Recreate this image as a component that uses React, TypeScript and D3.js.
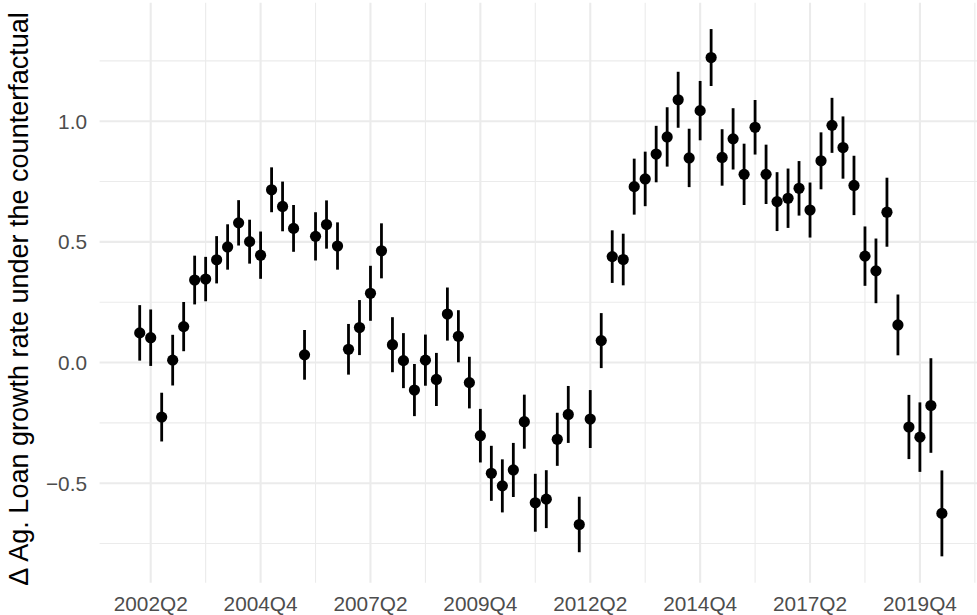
import React from "react";
import * as d3 from "d3";

const quarters: string[] = [
  "2002Q1","2002Q2","2002Q3","2002Q4","2003Q1","2003Q2","2003Q3","2003Q4",
  "2004Q1","2004Q2","2004Q3","2004Q4","2005Q1","2005Q2","2005Q3","2005Q4",
  "2006Q1","2006Q2","2006Q3","2006Q4","2007Q1","2007Q2","2007Q3","2007Q4",
  "2008Q1","2008Q2","2008Q3","2008Q4","2009Q1","2009Q2","2009Q3","2009Q4",
  "2010Q1","2010Q2","2010Q3","2010Q4","2011Q1","2011Q2","2011Q3","2011Q4",
  "2012Q1","2012Q2","2012Q3","2012Q4","2013Q1","2013Q2","2013Q3","2013Q4",
  "2014Q1","2014Q2","2014Q3","2014Q4","2015Q1","2015Q2","2015Q3","2015Q4",
  "2016Q1","2016Q2","2016Q3","2016Q4","2017Q1","2017Q2","2017Q3","2017Q4",
  "2018Q1","2018Q2","2018Q3","2018Q4","2019Q1","2019Q2","2019Q3","2019Q4",
  "2020Q1","2020Q2",
];

const estimates: number[] = [
  0.123, 0.103, -0.226, 0.010, 0.149, 0.342, 0.346, 0.426, 0.479, 0.579,
  0.501, 0.445, 0.716, 0.647, 0.556, 0.032, 0.523, 0.572, 0.483, 0.055,
  0.145, 0.287, 0.463, 0.074, 0.008, -0.114, 0.010, -0.070, 0.201, 0.109,
  -0.083, -0.303, -0.459, -0.511, -0.445, -0.245, -0.581, -0.566, -0.318, -0.215,
  -0.671, -0.234, 0.091, 0.439, 0.427, 0.729, 0.761, 0.864, 0.935, 1.089,
  0.848, 1.044, 1.264, 0.850, 0.927, 0.780, 0.975, 0.780, 0.667, 0.681,
  0.722, 0.632, 0.836, 0.983, 0.891, 0.734, 0.441, 0.380, 0.623, 0.156,
  -0.267, -0.309, -0.178, -0.625,
];

const halfWidths: number[] = [
  0.115, 0.117, 0.101, 0.105, 0.102, 0.101, 0.092, 0.098, 0.094, 0.094,
  0.091, 0.098, 0.093, 0.103, 0.097, 0.103, 0.100, 0.100, 0.098, 0.105,
  0.114, 0.114, 0.114, 0.114, 0.114, 0.108, 0.106, 0.110, 0.110, 0.108,
  0.107, 0.111, 0.114, 0.110, 0.112, 0.112, 0.120, 0.120, 0.110, 0.118,
  0.115, 0.120, 0.114, 0.109, 0.107, 0.116, 0.113, 0.117, 0.123, 0.116,
  0.121, 0.123, 0.118, 0.117, 0.127, 0.127, 0.113, 0.123, 0.122, 0.123,
  0.113, 0.114, 0.118, 0.114, 0.129, 0.123, 0.123, 0.134, 0.143, 0.126,
  0.133, 0.144, 0.196, 0.178,
];

const xMajorIdx: number[] = [1, 11, 21, 31, 41, 51, 61, 71];
const xMinorIdx: number[] = [-4, 6, 16, 26, 36, 46, 56, 66, 76];
const yMajor: number[] = [-0.5, 0, 0.5, 1.0];
const yMinor: number[] = [-0.75, -0.25, 0.25, 0.75, 1.25];
const yTickLabels: string[] = ["\u22120.5", "0.0", "0.5", "1.0"];
const yTitle = "\u0394 Ag. Loan growth rate under the counterfactual";

const W = 977;
const H = 615;
const panel = { left: 99.6, right: 982, top: 2.7, bottom: 582.7 };
const FONT = "'Liberation Sans', Arial, Helvetica, sans-serif";

export default function App() {
  const n = quarters.length;
  const xPad = 0.05 * (n - 1);
  const x = d3
    .scaleLinear()
    .domain([0 - xPad, n - 1 + xPad])
    .range([panel.left, panel.right]);

  const lows = estimates.map((e, i) => e - halfWidths[i]);
  const highs = estimates.map((e, i) => e + halfWidths[i]);
  const yMin = d3.min(lows) as number;
  const yMax = d3.max(highs) as number;
  const yPad = 0.05 * (yMax - yMin);
  const y = d3
    .scaleLinear()
    .domain([yMin - yPad, yMax + yPad])
    .range([panel.bottom, panel.top]);

  const inX = (v: number) => x(v) >= panel.left - 0.5 && x(v) <= W + 5;
  const grid = "#EBEBEB";
  const tickFs = 20.8;

  return (
    <svg
      width={W}
      height={H}
      style={{ position: "absolute", left: 0, top: 0, background: "#fff" }}
    >
      <rect x={0} y={0} width={W} height={H} fill="#fff" />
      {yMinor.map((v) => (
        <line key={"ym" + v} x1={panel.left} x2={panel.right} y1={y(v)} y2={y(v)} stroke={grid} strokeWidth={1.1} />
      ))}
      {xMinorIdx.filter(inX).map((v) => (
        <line key={"xm" + v} x1={x(v)} x2={x(v)} y1={panel.top} y2={panel.bottom} stroke={grid} strokeWidth={1.1} />
      ))}
      {yMajor.map((v) => (
        <line key={"yM" + v} x1={panel.left} x2={panel.right} y1={y(v)} y2={y(v)} stroke={grid} strokeWidth={2.1} />
      ))}
      {xMajorIdx.map((v) => (
        <line key={"xM" + v} x1={x(v)} x2={x(v)} y1={panel.top} y2={panel.bottom} stroke={grid} strokeWidth={2.1} />
      ))}
      {estimates.map((e, i) => (
        <line
          key={"eb" + i}
          x1={x(i)}
          x2={x(i)}
          y1={y(lows[i])}
          y2={y(highs[i])}
          stroke="#000"
          strokeWidth={2.8}
        />
      ))}
      {estimates.map((e, i) => (
        <circle key={"pt" + i} cx={x(i)} cy={y(e)} r={5.6} fill="#000" />
      ))}
      {yMajor.map((v, i) => (
        <text
          key={"yl" + v}
          x={87}
          y={y(v) + 0.358 * tickFs}
          textAnchor="end"
          fontFamily={FONT}
          fontSize={tickFs}
          fill="#4D4D4D"
        >
          {yTickLabels[i]}
        </text>
      ))}
      {xMajorIdx.map((v) => (
        <text
          key={"xl" + v}
          x={x(v)}
          y={610.5}
          textAnchor="middle"
          fontFamily={FONT}
          fontSize={tickFs}
          fill="#4D4D4D"
        >
          {quarters[v]}
        </text>
      ))}
      <text
        transform={`translate(27.5,299) rotate(-90)`}
        textAnchor="middle"
        fontFamily={FONT}
        fontSize={27}
        fill="#000"
      >
        {yTitle}
      </text>
    </svg>
  );
}
